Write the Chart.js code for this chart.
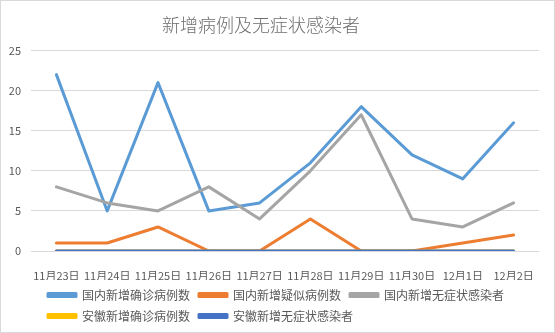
<!DOCTYPE html>
<html>
<head>
<meta charset="utf-8">
<script src="https://cdn.jsdelivr.net/npm/chart.js@4"></script>
<style>
  html, body { margin: 0; padding: 0; background: #fff; }
  #box { width: 553px; height: 331px; border: 1px solid #d9d9d9; position: relative; }
</style>
</head>
<body>
<div id="box"><canvas id="chart" width="553" height="331"></canvas></div>
<script>
    const titleText = '新增病例及无症状感染者';
    const dates = ['11月23日', '11月24日', '11月25日', '11月26日', '11月27日', '11月28日', '11月29日', '11月30日', '12月1日', '12月2日'];
    const yTicks = [0, 5, 10, 15, 20, 25];
    const seriesNames = ['国内新增确诊病例数', '国内新增疑似病例数', '国内新增无症状感染者', '安徽新增确诊病例数', '安徽新增无症状感染者'];
    const seriesColors = ['#5B9BD5', '#ED7D31', '#A5A5A5', '#FFC000', '#4472C4'];
    const domesticConfirmed = [22, 5, 21, 5, 6, 11, 18, 12, 9, 16];
    const domesticSuspected = [1, 1, 3, 0, 0, 4, 0, 0, 1, 2];
    const domesticAsymptomatic = [8, 6, 5, 8, 4, 10, 17, 4, 3, 6];
    const anhuiConfirmed = [0, 0, 0, 0, 0, 0, 0, 0, 0, 0];
    const anhuiAsymptomatic = [0, 0, 0, 0, 0, 0, 0, 0, 0, 0];
    const seriesData = [domesticConfirmed, domesticSuspected, domesticAsymptomatic, anhuiConfirmed, anhuiAsymptomatic];

    const font = '"Noto Sans CJK SC", "Noto Sans", sans-serif';

    // nudge title and legend to where Excel put them
    const nudge = {
        id: 'nudge',
        afterLayout(chart) {
            const t = chart.titleBlock;
            t.left -= 9; t.right -= 9;
            const lg = chart.legend;
            lg.left += 8; lg.right += 8;
        }
    };

    const ctx = document.getElementById('chart').getContext('2d');
    new Chart(ctx, {
        type: 'line',
        data: {
            labels: dates,
            datasets: seriesNames.map((name, i) => ({
                label: name,
                data: seriesData[i],
                borderColor: seriesColors[i],
                backgroundColor: seriesColors[i],
                borderWidth: 3,
                borderJoinStyle: 'round',
                borderCapStyle: 'round',
                pointRadius: 0,
                tension: 0,
                fill: false,
                order: seriesNames.length - i
            }))
        },
        options: {
            responsive: false,
            animation: false,
            layout: { padding: { left: 0, right: 15, top: 0, bottom: 0 } },
            plugins: {
                title: {
                    display: true,
                    text: titleText,
                    color: '#6e6e6e',
                    font: { family: font, size: 18, weight: '300' },
                    padding: { top: 13, bottom: 15 }
                },
                legend: {
                    position: 'bottom',
                    align: 'start',
                    fullSize: false,
                    labels: {
                        boxWidth: 28,
                        boxHeight: 3,
                        padding: 9,
                        color: '#595959',
                        font: { family: font, size: 12 },
                        sort: (a, b) => a.datasetIndex - b.datasetIndex
                    }
                },
                tooltip: { enabled: false }
            },
            scales: {
                x: {
                    offset: true,
                    grid: { display: false },
                    border: { display: false },
                    ticks: {
                        color: '#595959',
                        font: { family: font, size: 11 },
                        padding: 10,
                        maxRotation: 0,
                        autoSkip: false
                    },
                    afterFit: s => { s.height = 29; }
                },
                y: {
                    min: 0,
                    max: 25,
                    afterBuildTicks: s => { s.ticks = yTicks.map(v => ({ value: v })); },
                    grid: { color: '#d9d9d9', lineWidth: 1, drawTicks: false },
                    border: { display: false },
                    ticks: {
                        color: '#595959',
                        font: { family: font, size: 11 },
                        padding: 10
                    },
                    afterFit: s => { s.width = 30; }
                }
            }
        },
        plugins: [nudge]
    });
</script>
</body>
</html>
